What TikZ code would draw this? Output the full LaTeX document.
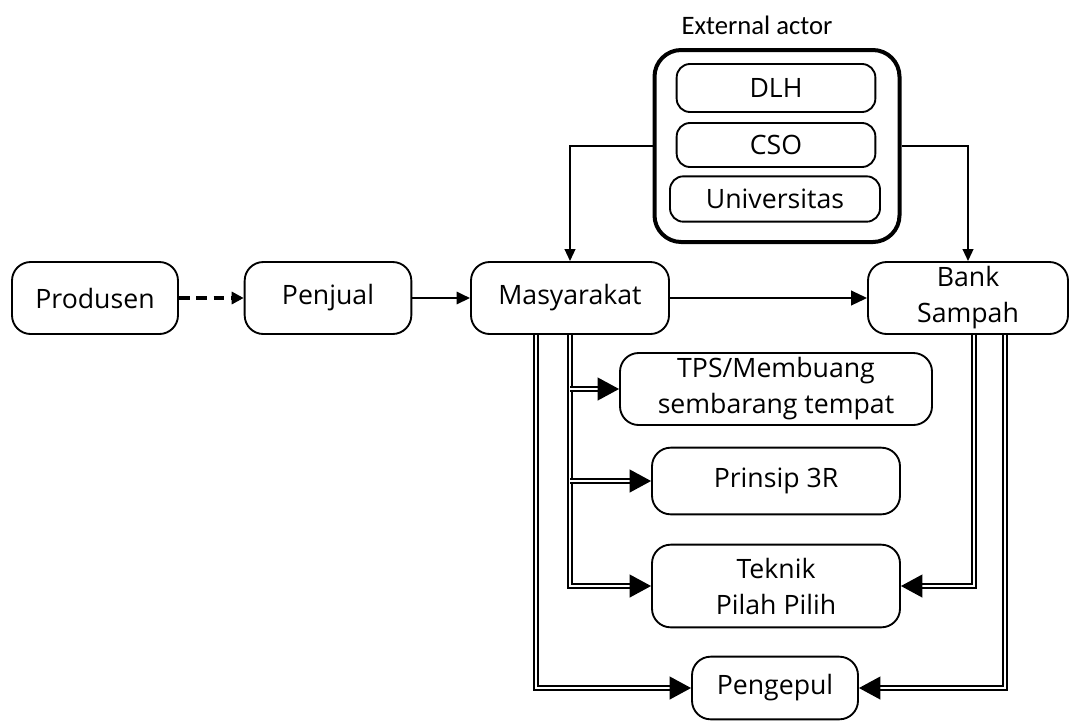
\documentclass[tikz,border=0pt]{standalone}
\usepackage{fontspec}
\setmainfont{Open Sans}
\newfontfamily\calfont{Carlito}
\usetikzlibrary{arrows.meta,positioning}

\begin{document}
\begin{tikzpicture}
  [
    x=0.75pt, y=-0.75pt,
    box/.style={
      draw, line width=1.4pt,
      rounded corners=14pt,
      align=center, inner sep=0pt,
      font=\fontsize{20}{27}\selectfont
    },
    smallbox/.style={
      box, rounded corners=10pt
    },
    group/.style={
      draw, line width=3pt,
      rounded corners=20pt
    },
    flow/.style={
      line width=1.5pt,
      -{Triangle[length=9pt,width=8pt]}
    },
    dflow/.style={
      double, double distance=1.8pt, line width=1.3pt,
      -{Triangle[length=16pt,width=17pt]}
    }
  ]
\useasboundingbox (0,0) rectangle (1069,722);

% main chain
\node (prod) [box, minimum width=124.5pt, minimum height=54pt] at (95,298)  {Produsen};
\node (penj) [box, minimum width=125pt, minimum height=54pt]   at (328,298) {Penjual};
\node (mas)  [box, minimum width=148.5pt, minimum height=54pt] at (570,298) {Masyarakat};
\node (bank) [box, minimum width=150pt, minimum height=54pt]   at (968,298) {Bank\\Sampah};

% external actor
\node (ext) [group, minimum width=183.75pt, minimum height=144pt] at (777,146) {};
\node (extlabel) [font=\calfont\fontsize{20}{22}\selectfont] at (757,25) {External actor};
\node (dlh)  [smallbox, minimum width=149pt, minimum height=36pt]  at (776,88)  {DLH};
\node (cso)  [smallbox, minimum width=149pt, minimum height=33pt]  at (776,145) {CSO};
\node (univ) [smallbox, minimum width=157.5pt, minimum height=34pt] at (775,199) {Universitas};

% outcomes
\node (tps)    [box, minimum width=234pt, minimum height=54pt] at (776,389) {TPS/Membuang\\sembarang tempat};
\node (r3)     [box, minimum width=186pt, minimum height=50pt] at (776,481) {Prinsip 3R};
\node (teknik) [box, minimum width=186pt, minimum height=62pt] at (776,586) {Teknik\\Pilah Pilih};
\node (peng)   [box, minimum width=124.5pt, minimum height=47pt] at (775,688) {Pengepul};

% single arrows
\draw [line width=2.6pt, dash pattern=on 8pt off 5pt, -{Triangle[length=9pt,width=9pt]}] (prod) -- (penj);
\draw [line width=2.2pt, -{Triangle[length=10pt,width=9pt]}] (penj) -- (mas);
\draw [flow, -{Triangle[length=12pt,width=11pt]}] (mas) -- (bank);
\draw [flow] (ext.west) -| (mas.north);
\draw [flow] (ext.east) -| (bank.north);

% double arrows
\coordinate (mL) at ([xshift=-25.5pt]mas.south);
\coordinate (bL) at ([xshift=4.5pt]bank.south);
\coordinate (bR) at ([xshift=27.75pt]bank.south);
\coordinate (j1) at (mas.south |- tps.west);
\coordinate (j2) at (mas.south |- r3.west);

\draw [dflow] (mas.south) |- (teknik.west);
\draw [dflow] (j1) -- (tps.west);
\draw [dflow] (j2) -- (r3.west);
\draw [dflow] (mL) |- (peng.west);
\draw [dflow] (bL) |- (teknik.east);
\draw [dflow] (bR) |- (peng.east);

\end{tikzpicture}
\end{document}
